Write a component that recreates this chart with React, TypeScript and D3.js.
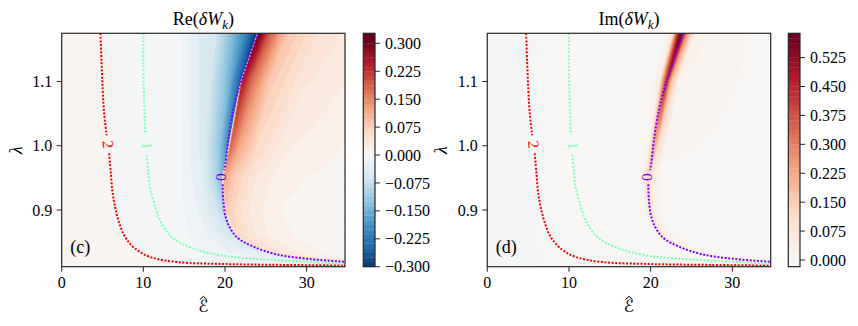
import { useMemo } from "react";
import * as d3 from "d3";

type Pair = [number, number];

// axes
const epsTicks = [0, 10, 20, 30];
const lamTicks = [0.9, 1.0, 1.1];
const epsRange: Pair = [0, 34.7];
const lamRange: Pair = [0.8117, 1.175];

// colorbars
const reTicks = [-0.3, -0.225, -0.15, -0.075, 0, 0.075, 0.15, 0.225, 0.3];
const imTicks = [0, 0.075, 0.15, 0.225, 0.3, 0.375, 0.45, 0.525];
const reBar: Pair = [-0.3, 0.327];
const imBar: Pair = [-0.0174, 0.588];

// contour lines of the level function, [eps, lambda], split at the inline labels
const c2Upper: Pair[] = [[4.75, 1.175], [4.88, 1.13], [5.02, 1.087], [5.2, 1.05], [5.5, 1.016]];
const c2Lower: Pair[] = [[5.8, 0.988], [6.0, 0.96], [6.2, 0.93], [6.45, 0.91], [6.94, 0.884], [7.76, 0.858], [8.98, 0.84], [10.8, 0.827], [14.1, 0.819], [20.2, 0.8158], [27, 0.8145], [34.7, 0.8135]];
const c1Upper: Pair[] = [[10.0, 1.175], [10.0, 1.12], [10.08, 1.071], [10.24, 1.017]];
const c1Lower: Pair[] = [[10.41, 0.986], [10.6, 0.96], [10.8, 0.935], [11.22, 0.9155], [12.04, 0.884], [13.47, 0.858], [16.12, 0.84], [20.2, 0.828], [26.3, 0.822], [34.7, 0.8165]];
const c0Upper: Pair[] = [[24.05, 1.175], [23.27, 1.149], [22.45, 1.118], [21.63, 1.087], [21.02, 1.056], [20.4, 1.009], [20.08, 0.973], [19.92, 0.962]];
const c0Lower: Pair[] = [[19.72, 0.94], [19.79, 0.9155], [20.2, 0.884], [21.43, 0.858], [23.47, 0.843], [26.3, 0.831], [30.4, 0.8236], [34.7, 0.8194]];

const lineLevels = ["2", "1", "0"];
const lineColors = ["#ff0000", "#80ffb4", "#8000ff"];
const lineParts = [[c2Upper, c2Lower], [c1Upper, c1Lower], [c0Upper, c0Lower]];
const labelAt: Pair[] = [[5.7, 1.002], [10.5, 1.0], [19.62, 0.951]];
const labelRot = [85, 88, 90];

// Re(dW_k): knots along rows of constant lambda (eps positions and values)
const rowLam = [1.175, 1.1, 1.0, 0.95, 0.9, 0.86, 0.84, 0.828, 0.82, 0.8117];
const reEps = [
  [0, 6.25, 6.4, 14.7, 15.1, 19, 22.5, 23.95, 24.15, 25.3, 27.5, 31, 34.7],
  [0, 6.25, 6.4, 14.7, 15.1, 18, 20.6, 21.9, 22.1, 23.3, 25.5, 29.5, 34.7],
  [0, 6.25, 6.4, 14.6, 15.0, 17.5, 19.3, 20.45, 20.65, 21.8, 24, 28, 34.7],
  [0, 6.25, 6.4, 14.6, 15.0, 17, 18.6, 19.65, 19.85, 21, 23.5, 27, 34.7],
  [0, 6.3, 6.5, 14.8, 15.3, 17, 18.8, 19.85, 20.05, 21.2, 23.5, 27, 34.7],
  [0, 7.0, 7.6, 15.5, 16, 17.5, 19.8, 21.25, 21.45, 22.8, 25, 29, 34.7],
  [0, 9, 10, 16.5, 17, 19, 22, 24.1, 24.3, 26, 28.5, 32, 34.7],
  [0, 11, 12.5, 17.5, 18, 21, 25.5, 27.9, 28.1, 29.5, 31.5, 33.5, 34.7],
  [0, 14, 16, 19, 19.5, 24, 30, 33.9, 34.1, 35, 36, 37, 38],
  [0, 18, 20, 22, 22.5, 26, 30, 34.6, 34.7, 35, 36, 37, 38],
];
const reVal = [
  [0.01, 0.01, -0.008, -0.011, -0.02, -0.06, -0.2, -0.31, 0.31, 0.2, 0.09, 0.05, 0.035],
  [0.01, 0.01, -0.008, -0.011, -0.02, -0.05, -0.15, -0.26, 0.25, 0.17, 0.08, 0.04, 0.025],
  [0.01, 0.01, -0.008, -0.011, -0.018, -0.045, -0.12, -0.2, 0.18, 0.12, 0.06, 0.025, 0.012],
  [0.01, 0.01, -0.008, -0.011, -0.016, -0.035, -0.08, -0.14, 0.12, 0.08, 0.04, 0.015, 0.008],
  [0.01, 0.01, -0.008, -0.011, -0.015, -0.027, -0.055, -0.09, 0.08, 0.06, 0.03, 0.012, 0.006],
  [0.01, 0.01, -0.008, -0.011, -0.015, -0.022, -0.04, -0.06, 0.06, 0.045, 0.025, 0.01, 0.006],
  [0.01, 0.01, -0.008, -0.011, -0.015, -0.02, -0.035, -0.05, 0.05, 0.035, 0.02, 0.01, 0.006],
  [0.01, 0.01, -0.008, -0.011, -0.014, -0.018, -0.03, -0.045, 0.045, 0.03, 0.018, 0.01, 0.008],
  [0.01, 0.01, -0.008, -0.011, -0.014, -0.016, -0.025, -0.035, 0.035, 0.025, 0.015, 0.01, 0.008],
  [0.01, 0.01, -0.008, -0.011, -0.014, -0.015, -0.017, -0.02, -0.02, -0.02, -0.02, -0.02, -0.02],
];

// Im(dW_k): same rows
const imEps = [
  [0, 6.25, 6.4, 21.8, 22.7, 23.3, 23.75, 24.3, 25.3, 34.7],
  [0, 6.25, 6.4, 20.2, 21.1, 21.6, 21.95, 22.4, 23.4, 34.7],
  [0, 6.25, 6.4, 19.0, 19.8, 20.2, 20.5, 20.9, 21.9, 34.7],
  [0, 6.25, 6.4, 18.3, 19.1, 19.45, 19.75, 20.1, 21.1, 34.7],
  [0, 6.25, 6.4, 18.5, 19.3, 19.65, 19.95, 20.3, 21.3, 34.7],
  [0, 6.25, 6.4, 19.9, 20.7, 21.1, 21.4, 21.8, 22.9, 34.7],
  [0, 6.25, 6.4, 22.5, 23.4, 23.9, 24.25, 24.7, 26, 34.7],
  [0, 6.25, 6.4, 26, 27.2, 27.8, 28.1, 28.6, 30, 34.7],
  [0, 6.25, 6.4, 31.5, 33, 33.7, 34.1, 34.6, 36, 38],
  [0, 6.25, 6.4, 30, 32, 33, 34, 35, 36, 37],
];
const imVal = [
  [-0.008, -0.008, 0.005, 0.005, 0.05, 0.4, 0.58, 0.3, 0.03, 0.005],
  [-0.008, -0.008, 0.005, 0.005, 0.04, 0.28, 0.44, 0.2, 0.025, 0.005],
  [-0.008, -0.008, 0.005, 0.005, 0.02, 0.14, 0.22, 0.1, 0.015, 0.005],
  [-0.008, -0.008, 0.005, 0.005, 0.015, 0.08, 0.12, 0.06, 0.01, 0.005],
  [-0.008, -0.008, 0.005, 0.005, 0.012, 0.05, 0.075, 0.04, 0.008, 0.005],
  [-0.008, -0.008, 0.005, 0.005, 0.01, 0.035, 0.05, 0.03, 0.008, 0.005],
  [-0.008, -0.008, 0.005, 0.005, 0.008, 0.025, 0.035, 0.02, 0.007, 0.005],
  [-0.008, -0.008, 0.005, 0.005, 0.007, 0.02, 0.026, 0.015, 0.006, 0.005],
  [-0.008, -0.008, 0.005, 0.005, 0.007, 0.016, 0.02, 0.013, 0.006, 0.005],
  [-0.008, -0.008, 0.005, 0.005, 0.006, 0.008, 0.01, 0.01, 0.01, 0.01],
];

const reLevels = [...d3.range(50).map((i) => -0.3 + i * 0.0125), 0.327];
const imLevels = [-0.0174, ...d3.range(47).map((i) => i * 0.0125), 0.588];

const rdbu = ["#053061", "#2166ac", "#4393c3", "#92c5de", "#d1e5f0", "#f7f7f7", "#fddbc7", "#f4a582", "#d6604d", "#b2182b", "#67001f"];
const cmap = d3
  .scaleLinear<string>()
  .domain(d3.range(11).map((i) => i / 10))
  .range(rdbu)
  .interpolate(d3.interpolateRgb)
  .clamp(true);

const FONT = "'Liberation Serif', 'Times New Roman', serif";
const TOP = 33.3;
const BOTTOM = 266.7;
const AXIS = "#262626";

function rowAt(eps: number[][], vals: number[][], lam: number) {
  let i = 0;
  while (i < rowLam.length - 2 && lam < rowLam[i + 1]) i++;
  const w = Math.max(0, Math.min(1, (rowLam[i] - lam) / (rowLam[i] - rowLam[i + 1])));
  const e = eps[i].map((a, k) => a + (eps[i + 1][k] - a) * w);
  const v = vals[i].map((a, k) => a + (vals[i + 1][k] - a) * w);
  return { e, v };
}

function sample(e: number[], v: number[], x: number) {
  if (x <= e[0]) return v[0];
  for (let k = 0; k < e.length - 1; k++) {
    if (x <= e[k + 1]) {
      const d = e[k + 1] - e[k];
      return d > 0 ? v[k] + ((v[k + 1] - v[k]) * (x - e[k])) / d : v[k + 1];
    }
  }
  return v[v.length - 1];
}

function Panel({ id, x0, x1, cbX, eps, vals, levels, vsym, bar, barTicks, name, tag }: any) {
  const xs = d3.scaleLinear().domain(epsRange).range([x0, x1]);
  const ys = d3.scaleLinear().domain(lamRange).range([BOTTOM, TOP]);
  const cy = d3.scaleLinear().domain(bar).range([BOTTOM, TOP]);
  const bandColor = (k: number) => cmap(0.5 + (0.5 * (levels[k] + levels[k + 1])) / 2 / vsym);

  const bands = useMemo(() => {
    const nx = Math.round(x1 - x0);
    const ny = Math.round(BOTTOM - TOP);
    const cw = (x1 - x0) / nx;
    const ch = (BOTTOM - TOP) / ny;
    const grid = new Array(nx * ny);
    for (let j = 0; j < ny; j++) {
      const { e, v } = rowAt(eps, vals, ys.invert(TOP + (j + 0.5) * ch));
      for (let i = 0; i < nx; i++) grid[j * nx + i] = sample(e, v, xs.invert(x0 + (i + 0.5) * cw));
    }
    const proj = d3.geoTransform({
      point(x: number, y: number) {
        (this as any).stream.point(x0 + x * cw, TOP + y * ch);
      },
    });
    const gp = d3.geoPath(proj);
    const cs = d3.contours().size([nx, ny]).thresholds(levels.slice(1, -1))(grid);
    return cs.map((c, k) => ({ d: gp(c as any) || "", fill: bandColor(k + 1) }));
  }, []);

  const line = d3
    .line<Pair>()
    .x((d) => xs(d[0]))
    .y((d) => ys(d[1]))
    .curve(d3.curveCatmullRom);

  const cx = (x0 + x1) / 2;
  const fmtBar = d3.format(".3f");

  return (
    <g fontFamily={FONT}>
      <clipPath id={`clip-${id}`}>
        <rect x={x0} y={TOP} width={x1 - x0} height={BOTTOM - TOP} />
      </clipPath>
      <rect x={x0} y={TOP} width={x1 - x0} height={BOTTOM - TOP} fill={bandColor(0)} />
      <g clipPath={`url(#clip-${id})`}>
        {bands.map((b, k) => (
          <path key={k} d={b.d} fill={b.fill} stroke={b.fill} strokeWidth={0.3} />
        ))}
        {lineParts.map((parts, li) =>
          parts.map((p, pi) => (
            <path
              key={`${li}-${pi}`}
              d={line(p) || ""}
              fill="none"
              stroke={lineColors[li]}
              strokeWidth={2}
              strokeDasharray="2,1.6"
            />
          ))
        )}
      </g>
      {lineLevels.map((t, li) => (
        <text
          key={t}
          transform={`translate(${xs(labelAt[li][0])},${ys(labelAt[li][1])}) rotate(${labelRot[li]})`}
          textAnchor="middle"
          dominantBaseline="central"
          fontSize={15.5}
          fill={lineColors[li]}
        >
          {t}
        </text>
      ))}
      <rect x={x0} y={TOP} width={x1 - x0} height={BOTTOM - TOP} fill="none" stroke={AXIS} strokeWidth={1.2} />

      {epsTicks.map((t) => (
        <g key={t}>
          <line x1={xs(t)} x2={xs(t)} y1={BOTTOM} y2={BOTTOM + 5} stroke={AXIS} strokeWidth={1} />
          <text x={xs(t)} y={288} textAnchor="middle" fontSize={16}>
            {t}
          </text>
        </g>
      ))}
      {lamTicks.map((t) => (
        <g key={t}>
          <line x1={x0 - 5} x2={x0} y1={ys(t)} y2={ys(t)} stroke={AXIS} strokeWidth={1} />
          <text x={x0 - 9.5} y={ys(t)} dy="0.35em" textAnchor="end" fontSize={16}>
            {t.toFixed(1)}
          </text>
        </g>
      ))}

      <text x={cx} y={25} textAnchor="middle" fontSize={18}>
        {name}(<tspan fontStyle="italic">δW</tspan>
        <tspan fontStyle="italic" fontSize={13} dy={4}>
          k
        </tspan>
        <tspan dy={-4}>)</tspan>
      </text>
      <text transform={`translate(${x0 - 40},150) rotate(-90)`} textAnchor="middle" fontSize={18} fontStyle="italic">
        λ
      </text>
      <text x={cx} y={311.5} textAnchor="middle" fontSize={17} fontFamily="'DejaVu Serif', 'DejaVu Sans', serif">
        {"\u2130"}
      </text>
      <path
        d={`M${cx - 3.5},${299.5}L${cx},${296.3}L${cx + 3.5},${299.5}`}
        fill="none"
        stroke="#000"
        strokeWidth={1}
      />
      <text x={x0 + 8.5} y={253} fontSize={18}>
        {tag}
      </text>

      {levels.slice(0, -1).map((l: number, k: number) => (
        <rect
          key={k}
          x={cbX}
          y={cy(levels[k + 1])}
          width={11.7}
          height={cy(l) - cy(levels[k + 1]) + 0.3}
          fill={bandColor(k)}
        />
      ))}
      <rect x={cbX} y={TOP} width={11.7} height={BOTTOM - TOP} fill="none" stroke={AXIS} strokeWidth={1.2} />
      {barTicks.map((t: number) => (
        <g key={t}>
          <line x1={cbX + 11.7} x2={cbX + 16.7} y1={cy(t)} y2={cy(t)} stroke={AXIS} strokeWidth={1} />
          <text x={cbX + 21.7} y={cy(t)} dy="0.35em" fontSize={16}>
            {fmtBar(t)}
          </text>
        </g>
      ))}
    </g>
  );
}

export default function App() {
  return (
    <svg
      width={858}
      height={326}
      viewBox="0 0 858 326"
      style={{ position: "absolute", left: 0, top: 0, background: "#fff" }}
    >
      <rect width={858} height={326} fill="#fff" />
      <Panel
        id="re"
        x0={61.7}
        x1={345}
        cbX={363.3}
        eps={reEps}
        vals={reVal}
        levels={reLevels}
        vsym={0.31}
        bar={reBar}
        barTicks={reTicks}
        name="Re"
        tag="(c)"
      />
      <Panel
        id="im"
        x0={487.3}
        x1={770.7}
        cbX={788.3}
        eps={imEps}
        vals={imVal}
        levels={imLevels}
        vsym={0.588}
        bar={imBar}
        barTicks={imTicks}
        name="Im"
        tag="(d)"
      />
    </svg>
  );
}
